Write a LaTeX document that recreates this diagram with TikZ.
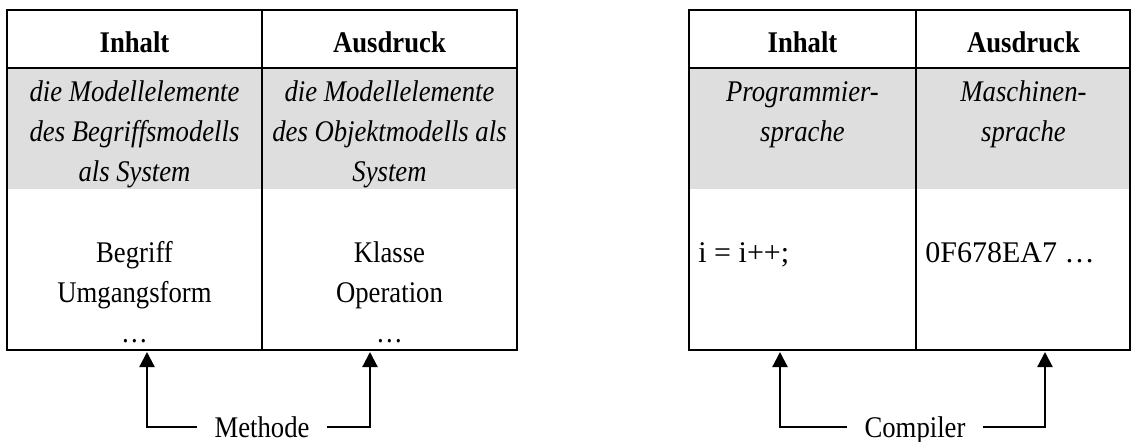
\documentclass[tikz,border=0pt]{standalone}
\usepackage{fontspec}
\setmainfont{Liberation Serif}[FakeStretch=0.89]
\newfontfamily\widefont{Liberation Serif}
\usetikzlibrary{fit,arrows.meta}
\begin{document}
\begin{tikzpicture}[x=0.5pt,y=-0.5pt,
  every node/.style={font=\fontsize{15pt}{20pt}\selectfont},
  tbl/.style={draw, line width=1.4pt, inner sep=0pt},
  grid/.style={line width=1.4pt},
  shade/.style={fill=black!13},
  head/.style={font=\fontsize{15pt}{20pt}\selectfont\bfseries, anchor=base},
  desc/.style={font=\fontsize{15pt}{20pt}\selectfont\itshape, align=center, anchor=base},
  body/.style={align=center, anchor=base},
  code/.style={font=\fontsize{15pt}{20pt}\widefont, anchor=base west, inner sep=0pt},
  lbl/.style={inner xsep=8.5pt, text height=10pt, text depth=0pt},
  conn/.style={line width=1.1pt, -{Triangle[width=7.5pt,length=7.5pt]}, shorten >=1pt},
]
\useasboundingbox (0,0) rectangle (1132,441);
% left table
\fill[shade] (7,68) rectangle (517,189);
\node[tbl, fit={(7,10) (517,350)}] (tabL) {};
\draw[grid] (7,68) -- (517,68);
\draw[grid] (262,10) -- (262,350);
\node[head] (hL1) at (134.5,52) {Inhalt};
\node[head] (hL2) at (389.5,52) {Ausdruck};
\node[desc] (dL1) at (134.5,181.7) {die Modellelemente\\des Begriffsmodells\\als System};
\node[desc] (dL2) at (389.5,181.7) {die Modellelemente\\des Objektmodells als\\System};
\node[body] (bL1) at (134.5,342) {Begriff\\Umgangsform\\…};
\node[body] (bL2) at (389.5,342) {Klasse\\Operation\\…};
% right table
\fill[shade] (689,68) rectangle (1130,189);
\node[tbl, fit={(689,10) (1130,350)}] (tabR) {};
\draw[grid] (689,68) -- (1130,68);
\draw[grid] (916,10) -- (916,350);
\node[head] (hR1) at (802.5,52) {Inhalt};
\node[head] (hR2) at (1023.5,52) {Ausdruck};
\node[desc] (dR1) at (802.5,141.7) {Programmier-\\sprache};
\node[desc] (dR2) at (1023.5,141.7) {Maschinen-\\sprache};
\node[code] (bR1) at (698,262) {i = i++;};
\node[code] (bR2) at (925,262) {0F678EA7 …};
% labels and connectors
\node[lbl] (methode) at (262,427) {Methode};
\node[lbl] (compiler) at (915,427) {Compiler};
\coordinate (tL1) at (147,350);
\coordinate (tL2) at (370,350);
\coordinate (tR1) at (780,350);
\coordinate (tR2) at (1045,350);
\draw[conn] (methode.west) -| (tL1);
\draw[conn] (methode.east) -| (tL2);
\draw[conn] (compiler.west) -| (tR1);
\draw[conn] (compiler.east) -| (tR2);
\end{tikzpicture}
\end{document}
